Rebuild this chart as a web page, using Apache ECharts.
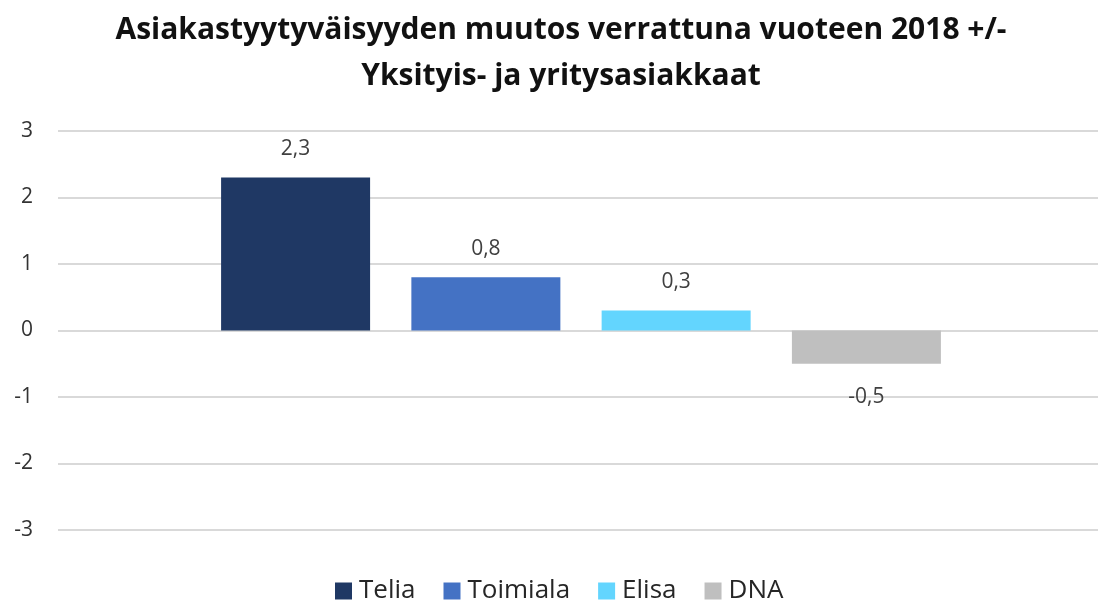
<!DOCTYPE html>
<html>
<head>
<meta charset="utf-8">
<script src="https://cdn.jsdelivr.net/npm/echarts@6/dist/echarts.min.js"></script>
<style>html,body{margin:0;padding:0;background:#fff;overflow:hidden}#c{width:1104px;height:602px}</style>
</head>
<body>
<div id="c"></div>
<script>
const titleText = 'Asiakastyytyväisyyden muutos verrattuna vuoteen 2018 +/-\nYksityis- ja yritysasiakkaat';
const categories = [''];
const seriesNames = ['Telia', 'Toimiala', 'Elisa', 'DNA'];
const seriesValues = [2.3, 0.8, 0.3, -0.5];
const seriesColors = ['#1F3864', '#4472C4', '#63D5FE', '#BFBFBF'];
const yTicks = [-3, -2, -1, 0, 1, 2, 3];

const fmt = v => String(v).replace('.', ',');

const chart = echarts.init(document.getElementById('c'), null, {renderer: 'canvas'});
chart.setOption({
  animation: false,
  backgroundColor: '#fff',
  title: {
    text: titleText,
    left: 561,
    textAlign: 'center',
    top: 7,
    padding: 0,
    textStyle: {fontFamily: 'Open Sans', fontWeight: 'bold', fontSize: 30, color: '#111', lineHeight: 46}
  },
  legend: {
    data: seriesNames,
    top: 578,
    left: 335,
    padding: 0,
    itemWidth: 17,
    itemHeight: 17,
    itemGap: 28,
    icon: 'rect',
    textStyle: {fontFamily: 'Open Sans', fontSize: 26, color: '#262626', padding: [0, 0, 0, 2]}
  },
  grid: {left: 58, right: 0, top: 131, bottom: 72, containLabel: false},
  xAxis: {
    type: 'category',
    data: categories,
    axisLine: {show: false},
    axisTick: {show: false},
    axisLabel: {show: false}
  },
  yAxis: {
    type: 'value',
    min: yTicks[0],
    max: yTicks[yTicks.length - 1],
    interval: 1,
    axisLine: {show: false},
    axisTick: {show: false},
    axisLabel: {fontFamily: 'Open Sans', fontSize: 21, color: '#333', margin: 25},
    splitLine: {lineStyle: {color: '#D9D9D9', width: 2}}
  },
  series: seriesNames.map((name, i) => ({
    name: name,
    type: 'bar',
    data: [seriesValues[i]],
    barWidth: 149,
    barGap: '27.7%',
    itemStyle: {color: seriesColors[i]},
    label: {
      show: true,
      position: seriesValues[i] >= 0 ? 'top' : 'bottom',
      distance: seriesValues[i] >= 0 ? 18 : 23,
      formatter: p => fmt(p.value),
      fontFamily: 'Open Sans',
      fontSize: 21,
      color: '#404040'
    }
  }))
});
</script>
</body>
</html>
